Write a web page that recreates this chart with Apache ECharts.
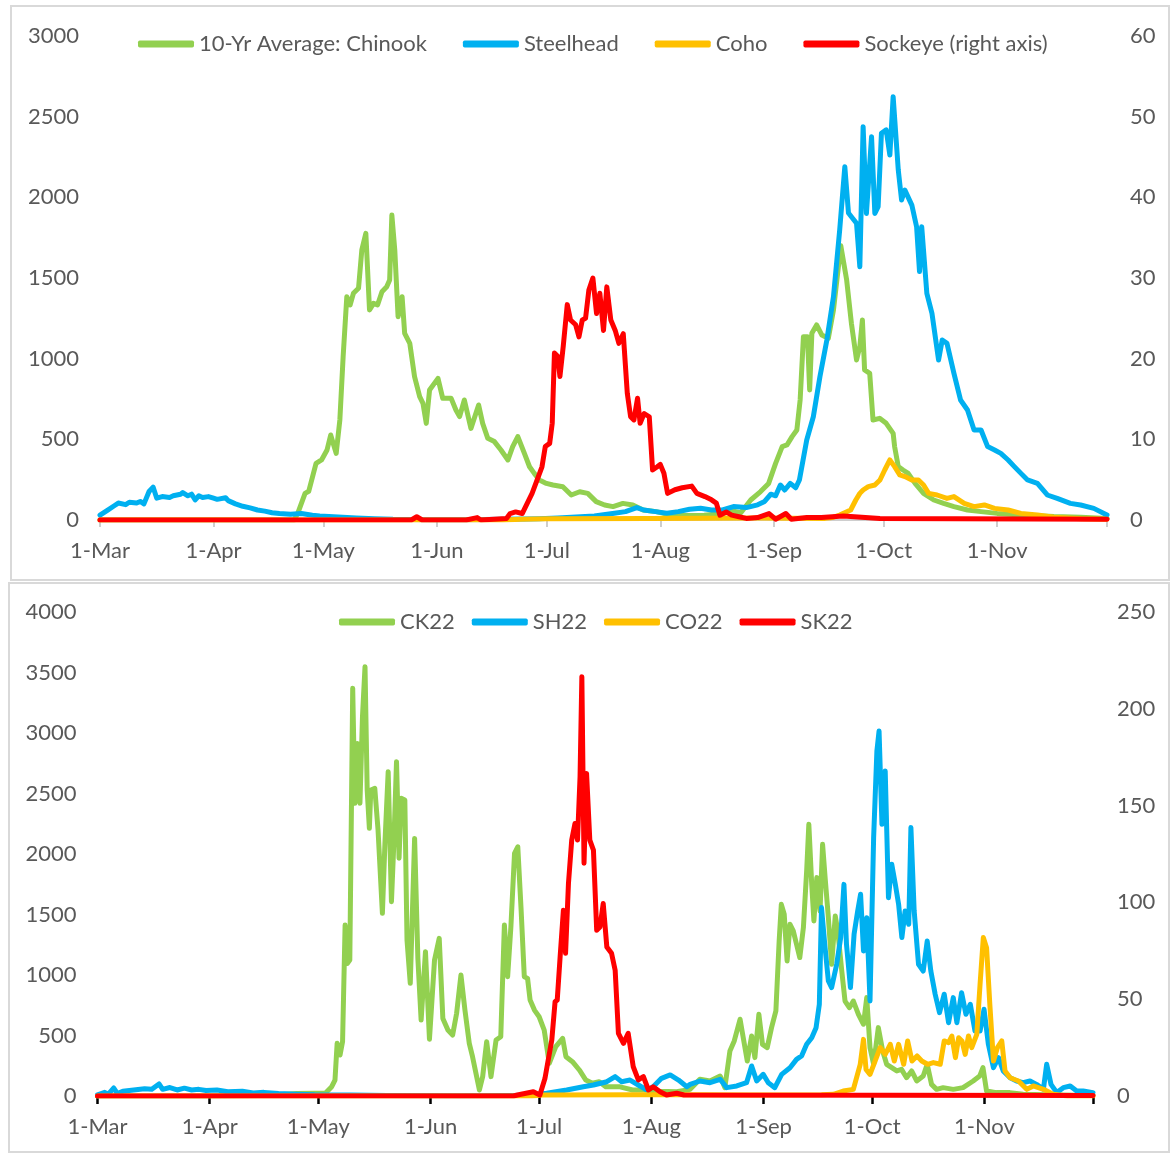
<!DOCTYPE html>
<html>
<head>
<meta charset="utf-8">
<script src="https://cdn.jsdelivr.net/npm/echarts@6/dist/echarts.min.js"></script>
<style>
  html, body { margin: 0; padding: 0; background: #fff; }
  #page { position: relative; width: 1173px; height: 1155px; overflow: hidden; }
  .panel { position: absolute; box-sizing: border-box; border: 2px solid #d9d9d9; }
  .chart { position: absolute; left: 0; width: 1173px; }
</style>
</head>
<body>
<div id="page">
  <div class="panel" style="left:10px;top:5px;width:1160px;height:576px"></div>
  <div class="panel" style="left:8px;top:582px;width:1162px;height:571px"></div>
  <div id="topChart" class="chart" style="top:0;height:580px"></div>
  <div id="bottomChart" class="chart" style="top:580px;height:575px"></div>
</div>
<script>
// --- x axis: days counted from 1-Mar ---
const tickDays = [0, 31, 61, 92, 122, 153, 184, 214, 245];
const tickLabels = ['1-Mar', '1-Apr', '1-May', '1-Jun', '1-Jul', '1-Aug', '1-Sep', '1-Oct', '1-Nov'];
const endDay = 275;

// --- top chart: 10-year averages [day, count] ---
const avgChinook = [[0,0],[53,0],[54,41],[56,165],[57,178],[59,351],[60.5,372],[62,434],[63,527],[64.5,413],[65.5,620],[66.4,1012],[67.4,1384],[68.3,1333],[69.2,1405],[70.6,1436],[71.5,1674],[72.6,1777],[73.6,1302],[74.7,1343],[75.8,1333],[77,1415],[78.3,1446],[79.1,1488],[79.7,1890],[80.5,1674],[81.4,1260],[82.5,1384],[83.2,1157],[84.6,1095],[85.9,889],[87.3,765],[88.2,723],[89.1,599],[90,806],[92.3,878],[93.6,754],[95.9,754],[97.2,682],[98.2,641],[99.5,744],[101.3,568],[103.4,713],[104.5,599],[105.9,506],[107.7,486],[109.5,434],[111.4,372],[112.7,455],[114.1,517],[115.9,413],[117.3,330],[118.6,289],[120,248],[121.9,227],[123.7,217],[126.4,206],[128.7,155],[131,175],[133.2,165],[135.5,114],[137.8,93],[140.1,83],[142.8,103],[145.5,93],[148.3,62],[151.9,52],[155,35],[160,28],[165,30],[170,40],[173,55],[175,45],[177.7,124],[180.4,176],[182.6,227],[184.5,351],[186.3,455],[187.6,465],[189,517],[190.3,558],[191.2,744],[192.1,1136],[193.2,1136],[193.8,806],[194.4,1157],[195.7,1209],[197.1,1147],[198.9,1126],[200.3,1302],[202.3,1700],[203.9,1488],[205.2,1219],[206.6,992],[207.5,1074],[208.2,1240],[208.8,930],[210.2,909],[211.1,620],[212.9,630],[214.7,599],[216.6,537],[217,455],[218,331],[219.3,310],[220.7,289],[222.6,227],[224.9,165],[227.7,124],[230.4,103],[233.2,83],[236.9,62],[240.6,52],[245,41],[251.5,31],[260.5,21],[267.8,17],[275,10]];
const avgSteelhead = [[0,30],[2,60],[4,90],[5,105],[7,95],[8,110],[10,105],[11,115],[12,100],[13.4,177],[14.5,204],[15.5,135],[17,145],[19,140],[20,150],[22,160],[22.6,170],[24,150],[25,160],[26,125],[27,150],[28,140],[29.6,145],[31,135],[32,128],[34.3,138],[35,120],[37,100],[39,85],[41,75],[43,62],[45,55],[47,45],[49,40],[52,35],[55,40],[58,30],[60,25],[65,18],[70,12],[75,8],[80,4],[90,2],[100,2],[110,4],[116,6],[120,8],[125,12],[130,18],[135,25],[140,40],[143.5,52],[146.6,77],[148.5,62],[151.7,52],[154.8,42],[157.9,52],[161,67],[164,73],[167,62],[170,62],[173,83],[176.5,77],[179.6,94],[181.5,115],[183.2,160],[184.5,150],[185.8,217],[187,186],[188.5,227],[190,200],[191,248],[193,496],[194.8,640],[196.6,888],[198.5,1116],[200.3,1384],[202,1797],[203.4,2190],[204.4,1903],[205.2,1880],[206.6,1839],[207.5,1570],[208.4,2438],[209.3,1900],[210.7,2376],[211.6,1900],[212.5,1942],[213.4,2397],[214.7,2418],[215.7,2262],[216.6,2624],[218,2169],[218.9,1983],[219.8,2045],[221.7,1952],[223,1818],[223.8,1540],[224.4,1818],[225.8,1405],[227.2,1281],[229,992],[230,1116],[231.3,1095],[233.2,909],[235,744],[236.9,682],[238.7,558],[240.6,558],[242.4,455],[244.3,434],[246,413],[248,372],[249.7,331],[251.5,289],[253.3,248],[256,227],[258.7,155],[261.4,134],[265,103],[267.8,93],[271.4,72],[275,31]];
const avgCoho = [[0,0],[110,0],[115,5],[122,8],[150,10],[180,12],[198,10],[200,15],[202,31],[205,62],[206.4,124],[207.5,165],[208.4,186],[209.8,207],[211.6,217],[213,248],[214.3,310],[215.7,372],[217,331],[218.4,279],[219.8,269],[221.7,248],[223.5,248],[224.9,217],[226.3,165],[228.6,155],[231.3,134],[233.2,145],[236,103],[238.7,83],[241.5,93],[244.3,72],[248,62],[251.5,41],[256,31],[260.5,17],[268,8],[275,5]];
const avgSockeye = [[0,0],[85,0],[86.5,0.4],[88,0],[100,0],[103,0.3],[104,0],[111,0.2],[112,0.8],[113.5,1.0],[115.3,0.8],[116.7,2.1],[118,3.3],[119.4,5.0],[120.7,6.6],[121.6,9.1],[122.8,9.5],[123.5,12],[124.1,20.7],[125,20.3],[125.6,17.8],[126.5,21.5],[127.6,26.7],[128.5,24.8],[129.9,24.2],[130.8,22.7],[131.7,24.8],[132.6,25],[133.5,28.5],[134.6,30],[135.6,25.6],[136.5,28.1],[137.5,23.5],[138.4,28.9],[139.5,24.8],[140.7,23.5],[141.7,21.9],[142.9,23.1],[144,15.7],[144.9,12.8],[145.8,12.4],[146.8,15.1],[147.5,12],[148.6,13.2],[150,12.8],[150.9,6.2],[152.2,6.6],[153,6.9],[154,5.8],[155,3.3],[157,3.75],[159,4],[161.6,4.2],[163,3.3],[165.2,2.9],[167,2.5],[168.3,2.1],[169.3,0.6],[171,1],[172.5,0.6],[174.5,0.4],[176.5,0.2],[179.6,0.3],[182.7,0.8],[184.5,0.1],[187.3,0.8],[188.8,0.1],[193,0.3],[197,0.3],[203,0.5],[213,0.2],[275,0.1]];

// --- bottom chart: 2022 counts [day, count] ---
const ck22 = [[0,0],[30,0],[45,5],[50,10],[55,20],[60,22],[63,25],[64.7,77],[65.6,132],[66.2,435],[67,339],[67.7,450],[68.4,1413],[69,1096],[69.7,1124],[70.5,3369],[71.1,2419],[71.8,2914],[72.5,2419],[73.2,3135],[73.9,3548],[74.5,2529],[75.1,2212],[75.5,2529],[76.6,2542],[77.5,2198],[78.7,1510],[79.4,2088],[80.3,2680],[81.2,1606],[81.9,2116],[82.6,2763],[83.3,1965],[83.9,2460],[84.9,2446],[85.5,1289],[86.4,931],[87.6,2129],[88.5,1138],[89.4,628],[90.6,1193],[91.7,469],[93.1,1124],[94.4,1303],[95.4,641],[96.8,545],[98.1,504],[99.2,683],[100.4,1000],[101.5,710],[102.7,435],[103.6,325],[105.5,50],[106.4,160],[107.5,449],[108.7,160],[110.1,463],[111.4,490],[112.4,1413],[113.3,986],[114.2,1400],[115.2,2005],[116.1,2060],[117,1551],[117.9,986],[118.8,972],[119.5,793],[120.7,710],[122,655],[123.4,545],[124.8,270],[126.6,408],[128.5,476],[129.4,325],[131.2,284],[133.1,215],[134.9,132],[136.7,105],[138.6,118],[140.4,77],[144.1,77],[147.8,50],[151.5,50],[155,40],[160,35],[163.7,55],[166.4,138],[169.2,124],[172,165],[173.3,69],[174.7,372],[175.9,455],[177.5,634],[178.7,427],[179.5,289],[180.7,496],[181.6,317],[182.7,675],[183.7,427],[185,400],[186.2,565],[187.4,703],[188.3,1281],[188.9,1584],[189.7,1502],[190.5,1116],[191.3,1419],[192.2,1364],[193.1,1254],[194,1144],[195,1392],[195.9,1860],[196.5,2245],[197.3,1749],[197.9,1447],[198.7,1805],[199.6,1529],[200.3,2080],[201,1805],[201.9,1474],[202.8,1089],[203.8,1488],[204.5,1364],[205.6,1033],[206.5,785],[207.7,730],[208.8,785],[210.2,675],[211.6,593],[212.5,813],[213.4,400],[214.4,262],[215.7,565],[216.9,372],[218,262],[219.4,234],[220.8,207],[222.1,220],[223.5,151],[224.9,207],[226.3,124],[228.1,165],[229.2,262],[230.4,96],[231.8,55],[233.6,69],[236.4,55],[239.1,69],[241.9,124],[243.7,165],[244.6,234],[245.6,41],[248.3,28],[252,28],[255.7,14],[265,8],[275,5]];
const sh22 = [[0,10],[2,30],[3,15],[4.5,66],[5.5,20],[7,40],[10,50],[13,60],[15,55],[17,100],[18,55],[20,70],[22,50],[24,65],[26,50],[28,55],[30,45],[33,50],[36,35],[40,40],[43,25],[46,30],[50,20],[55,15],[60,10],[70,8],[80,5],[100,3],[115,5],[120,8],[124.1,22],[129.6,50],[134.2,77],[137,91],[140.7,118],[143,160],[144.8,118],[147.1,132],[149.4,91],[151.7,50],[153.5,77],[155.8,146],[158.2,174],[160.5,132],[162.8,77],[163.7,96],[166.4,124],[169.2,110],[172,138],[173.8,69],[176.6,83],[179.3,110],[180.7,248],[182.1,124],[183.9,179],[185.3,110],[187.1,69],[189,179],[191.3,234],[193.1,303],[194.5,331],[195.9,427],[197.3,482],[198.5,565],[199.4,758],[200,1557],[200.9,1254],[201.9,951],[202.8,896],[204.2,1089],[205.3,1309],[206.2,1749],[206.9,1254],[208,896],[209,1337],[210,1529],[210.8,1667],[211.6,1199],[212.5,1474],[213.4,785],[214.4,2135],[215.3,2851],[215.9,3016],[216.7,2245],[217.6,2686],[218.5,1639],[219.4,1915],[220.4,1749],[221.3,1584],[222.2,1309],[223.1,1529],[224.1,1419],[224.7,2218],[225.6,1529],[226.8,1089],[228.1,1033],[229.2,1281],[230.2,1033],[231.4,841],[232.6,689],[233.9,841],[235.1,606],[236.4,813],[237.4,606],[238.7,854],[239.9,675],[241.1,758],[242.4,537],[243.8,537],[244.9,717],[246.1,427],[247.5,234],[248.9,317],[250.2,207],[252.1,151],[253.9,124],[255.7,110],[257.6,124],[259.4,96],[261.3,55],[262.2,262],[263.4,96],[265,28],[266.8,69],[268.7,83],[270.5,41],[272.3,41],[275,28]];
const co22 = [[0,0],[120,0],[123,8],[150,10],[165,10],[180,8],[200,10],[203.3,14],[206,41],[208.8,55],[210.7,262],[211.6,468],[212.3,220],[213.4,179],[214.8,289],[216.2,400],[217.6,344],[219,427],[220.1,289],[221.3,427],[222.7,262],[223.8,455],[225,289],[226.4,331],[227.7,289],[229.3,262],[230.9,276],[232.8,262],[233.9,455],[235.1,441],[236,496],[237,317],[237.9,482],[238.8,455],[239.7,344],[240.6,496],[241.5,400],[242.9,510],[243.8,923],[244.7,1309],[245.6,1226],[246.5,758],[247.5,289],[248.6,400],[249.8,455],[250.7,207],[252.1,151],[254.4,124],[256.7,55],[258.5,83],[261.3,55],[264,14],[268,0],[275,0]];
const sk22 = [[0,0],[114.9,0],[116,0.5],[120.4,2.2],[122.2,0.5],[123.6,9],[124.5,18.5],[125.5,28.9],[126.4,48.7],[127,49.6],[127.8,72],[128.7,96],[129.3,73.7],[130.1,109.8],[131,132.2],[131.9,140.8],[132.6,132.2],[133.3,164.9],[133.8,216.6],[134.4,120.2],[135.1,166.6],[136,132.2],[137,127],[137.9,85.6],[138.8,87.3],[139.7,99.4],[140.7,77],[142,73.7],[143,65],[143.9,32.4],[145.3,27.2],[146.6,32.4],[148,15.1],[149.4,8.3],[150.8,10],[152.2,3.1],[153.5,4.8],[155.4,2.2],[157.2,0.5],[160,1.4],[162,0.5],[275,0.3]];

const GREEN = '#92D050', BLUE = '#00B0F0', GOLD = '#FFC000', RED = '#FF0000';
const FONT = 'Lato';
const TXT = '#595959';
const FS = 22;

function buildOption(cfg) {
    const line = (name, data, color, yIdx) => ({
        name, type: 'line', data, yAxisIndex: yIdx, symbol: 'none',
        lineStyle: { color, width: 5, cap: 'round', join: 'round' },
        itemStyle: { color }
    });
    const yAxis = (max, interval, margin) => ({
        type: 'value', min: 0, max, interval,
        axisLine: { show: false }, axisTick: { show: false }, splitLine: { show: false },
        axisLabel: { color: TXT, fontSize: FS, fontFamily: FONT, margin, formatter: v => String(v) }
    });
    return {
        animation: false,
        textStyle: { fontFamily: FONT },
        legend: {
            left: cfg.legendLeft, top: cfg.legendTop, padding: 0, itemGap: cfg.legendGap,
            itemWidth: 56, itemHeight: 7, icon: 'roundRect',
            textStyle: { color: TXT, fontSize: FS, fontFamily: FONT }
        },
        grid: cfg.grid,
        xAxis: {
            type: 'value', min: 0, max: endDay,
            splitLine: { show: false },
            axisLine: { show: true, lineStyle: { color: cfg.tickColor, width: 1.5 } },
            axisTick: { show: true, customValues: tickDays.concat([endDay]), length: cfg.tickLen,
                        lineStyle: { color: cfg.tickColor, width: cfg.tickWidth } },
            axisLabel: {
                customValues: tickDays, color: TXT, fontSize: FS, fontFamily: FONT, margin: 20,
                formatter: v => tickLabels[tickDays.indexOf(v)] || ''
            }
        },
        yAxis: [yAxis(cfg.leftMax, cfg.leftStep, 21), yAxis(cfg.rightMax, cfg.rightStep, cfg.rightMargin)],
        series: [
            line(cfg.names[0], cfg.data[0], GREEN, 0),
            line(cfg.names[1], cfg.data[1], BLUE, 0),
            line(cfg.names[2], cfg.data[2], GOLD, 0),
            line(cfg.names[3], cfg.data[3], RED, 1)
        ]
    };
}

const topChart = echarts.init(document.getElementById('topChart'));
topChart.setOption(buildOption({
    grid: { left: 100, right: 66, top: 36, bottom: 60 },
    legendLeft: 138, legendTop: 33, legendGap: 36,
    tickColor: '#bfbfbf', tickLen: 7, tickWidth: 1.5,
    leftMax: 3000, leftStep: 500, rightMax: 60, rightStep: 10, rightMargin: 23,
    names: ['10-Yr Average: Chinook', 'Steelhead', 'Coho', 'Sockeye (right axis)'],
    data: [avgChinook, avgSteelhead, avgCoho, avgSockeye]
}));

const bottomChart = echarts.init(document.getElementById('bottomChart'));
bottomChart.setOption(buildOption({
    grid: { left: 97.5, right: 80, top: 32, bottom: 59 },
    legendLeft: 339, legendTop: 31, legendGap: 17,
    tickColor: '#000', tickLen: 8, tickWidth: 2.5,
    leftMax: 4000, leftStep: 500, rightMax: 250, rightStep: 50, rightMargin: 24,
    names: ['CK22', 'SH22', 'CO22', 'SK22'],
    data: [ck22, sh22, co22, sk22]
}));
</script>
</body>
</html>
